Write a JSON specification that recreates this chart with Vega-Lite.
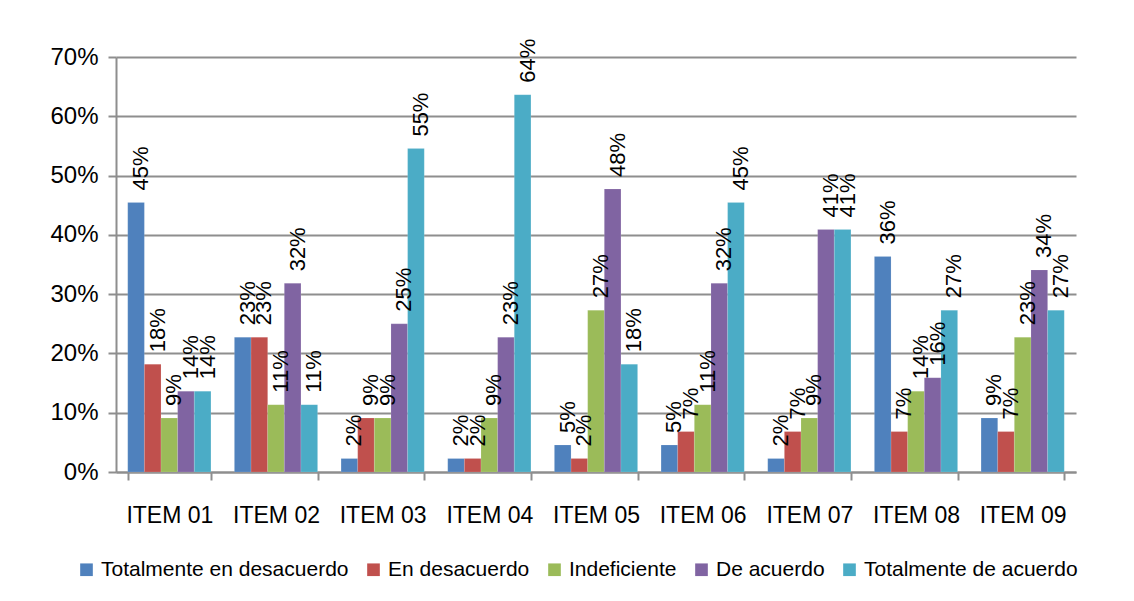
{
  "$schema": "https://vega.github.io/schema/vega-lite/v6.json",
  "width": 960,
  "height": 415,
  "autosize": {"type": "none"},
  "padding": {"left": 116, "top": 57, "right": 58, "bottom": 129},
  "background": "white",
  "config": {
    "font": "Liberation Sans",
    "view": {"stroke": null}
  },
  "data": {
    "values": [
      {"item": "ITEM 01", "serie": "Totalmente en desacuerdo", "valor": 0.4545},
      {"item": "ITEM 01", "serie": "En desacuerdo", "valor": 0.1818},
      {"item": "ITEM 01", "serie": "Indeficiente", "valor": 0.0909},
      {"item": "ITEM 01", "serie": "De acuerdo", "valor": 0.1364},
      {"item": "ITEM 01", "serie": "Totalmente de acuerdo", "valor": 0.1364},
      {"item": "ITEM 02", "serie": "Totalmente en desacuerdo", "valor": 0.2273},
      {"item": "ITEM 02", "serie": "En desacuerdo", "valor": 0.2273},
      {"item": "ITEM 02", "serie": "Indeficiente", "valor": 0.1136},
      {"item": "ITEM 02", "serie": "De acuerdo", "valor": 0.3182},
      {"item": "ITEM 02", "serie": "Totalmente de acuerdo", "valor": 0.1136},
      {"item": "ITEM 03", "serie": "Totalmente en desacuerdo", "valor": 0.0227},
      {"item": "ITEM 03", "serie": "En desacuerdo", "valor": 0.0909},
      {"item": "ITEM 03", "serie": "Indeficiente", "valor": 0.0909},
      {"item": "ITEM 03", "serie": "De acuerdo", "valor": 0.25},
      {"item": "ITEM 03", "serie": "Totalmente de acuerdo", "valor": 0.5455},
      {"item": "ITEM 04", "serie": "Totalmente en desacuerdo", "valor": 0.0227},
      {"item": "ITEM 04", "serie": "En desacuerdo", "valor": 0.0227},
      {"item": "ITEM 04", "serie": "Indeficiente", "valor": 0.0909},
      {"item": "ITEM 04", "serie": "De acuerdo", "valor": 0.2273},
      {"item": "ITEM 04", "serie": "Totalmente de acuerdo", "valor": 0.6364},
      {"item": "ITEM 05", "serie": "Totalmente en desacuerdo", "valor": 0.0455},
      {"item": "ITEM 05", "serie": "En desacuerdo", "valor": 0.0227},
      {"item": "ITEM 05", "serie": "Indeficiente", "valor": 0.2727},
      {"item": "ITEM 05", "serie": "De acuerdo", "valor": 0.4773},
      {"item": "ITEM 05", "serie": "Totalmente de acuerdo", "valor": 0.1818},
      {"item": "ITEM 06", "serie": "Totalmente en desacuerdo", "valor": 0.0455},
      {"item": "ITEM 06", "serie": "En desacuerdo", "valor": 0.0682},
      {"item": "ITEM 06", "serie": "Indeficiente", "valor": 0.1136},
      {"item": "ITEM 06", "serie": "De acuerdo", "valor": 0.3182},
      {"item": "ITEM 06", "serie": "Totalmente de acuerdo", "valor": 0.4545},
      {"item": "ITEM 07", "serie": "Totalmente en desacuerdo", "valor": 0.0227},
      {"item": "ITEM 07", "serie": "En desacuerdo", "valor": 0.0682},
      {"item": "ITEM 07", "serie": "Indeficiente", "valor": 0.0909},
      {"item": "ITEM 07", "serie": "De acuerdo", "valor": 0.4091},
      {"item": "ITEM 07", "serie": "Totalmente de acuerdo", "valor": 0.4091},
      {"item": "ITEM 08", "serie": "Totalmente en desacuerdo", "valor": 0.3636},
      {"item": "ITEM 08", "serie": "En desacuerdo", "valor": 0.0682},
      {"item": "ITEM 08", "serie": "Indeficiente", "valor": 0.1364},
      {"item": "ITEM 08", "serie": "De acuerdo", "valor": 0.1591},
      {"item": "ITEM 08", "serie": "Totalmente de acuerdo", "valor": 0.2727},
      {"item": "ITEM 09", "serie": "Totalmente en desacuerdo", "valor": 0.0909},
      {"item": "ITEM 09", "serie": "En desacuerdo", "valor": 0.0682},
      {"item": "ITEM 09", "serie": "Indeficiente", "valor": 0.2273},
      {"item": "ITEM 09", "serie": "De acuerdo", "valor": 0.3409},
      {"item": "ITEM 09", "serie": "Totalmente de acuerdo", "valor": 0.2727}
    ]
  },
  "encoding": {
    "x": {
      "field": "item",
      "type": "nominal",
      "scale": {"paddingInner": 0.22, "paddingOuter": 0.11},
      "axis": {
        "title": null,
        "labelAngle": 0,
        "labelFontSize": 23,
        "labelColor": "black",
        "labelPadding": 24,
        "tickBand": "extent",
        "tickSize": 8,
        "tickColor": "#8e8e8e",
        "tickWidth": 2,
        "domainColor": "#8e8e8e",
        "domainWidth": 2
      }
    },
    "xOffset": {
      "field": "serie",
      "type": "nominal",
      "sort": ["Totalmente en desacuerdo", "En desacuerdo", "Indeficiente", "De acuerdo", "Totalmente de acuerdo"]
    },
    "y": {
      "field": "valor",
      "type": "quantitative",
      "scale": {"domain": [0, 0.7], "nice": false},
      "axis": {
        "title": null,
        "format": ".0%",
        "values": [0, 0.1, 0.2, 0.3, 0.4, 0.5, 0.6, 0.7],
        "labelFontSize": 24,
        "labelColor": "black",
        "labelPadding": 10,
        "tickSize": 8,
        "tickColor": "#8e8e8e",
        "tickWidth": 2,
        "domainColor": "#8e8e8e",
        "domainWidth": 2,
        "grid": true,
        "gridColor": "#8e8e8e",
        "gridWidth": 2
      }
    }
  },
  "layer": [
    {
      "mark": {"type": "bar", "stroke": "white", "strokeOpacity": 0.25, "strokeWidth": 0.5},
      "encoding": {
        "color": {
          "field": "serie",
          "type": "nominal",
          "scale": {
            "domain": ["Totalmente en desacuerdo", "En desacuerdo", "Indeficiente", "De acuerdo", "Totalmente de acuerdo"],
            "range": ["#4F81BD", "#C0504D", "#9BBB59", "#8064A2", "#4BACC6"]
          },
          "legend": {
            "title": null,
            "orient": "none",
            "direction": "horizontal",
            "legendX": -40,
            "legendY": 502,
            "symbolType": "square",
            "symbolSize": 160,
            "symbolStrokeWidth": 0,
            "labelFontSize": 21,
            "labelLimit": 500,
            "labelColor": "black",
            "labelOffset": 4,
            "columnPadding": 14
          }
        }
      }
    },
    {
      "mark": {"type": "text", "angle": 270, "align": "left", "baseline": "middle", "dx": 12, "dy": 5, "fontSize": 22, "color": "black"},
      "encoding": {
        "text": {"field": "valor", "type": "quantitative", "format": ".0%"}
      }
    }
  ]
}
